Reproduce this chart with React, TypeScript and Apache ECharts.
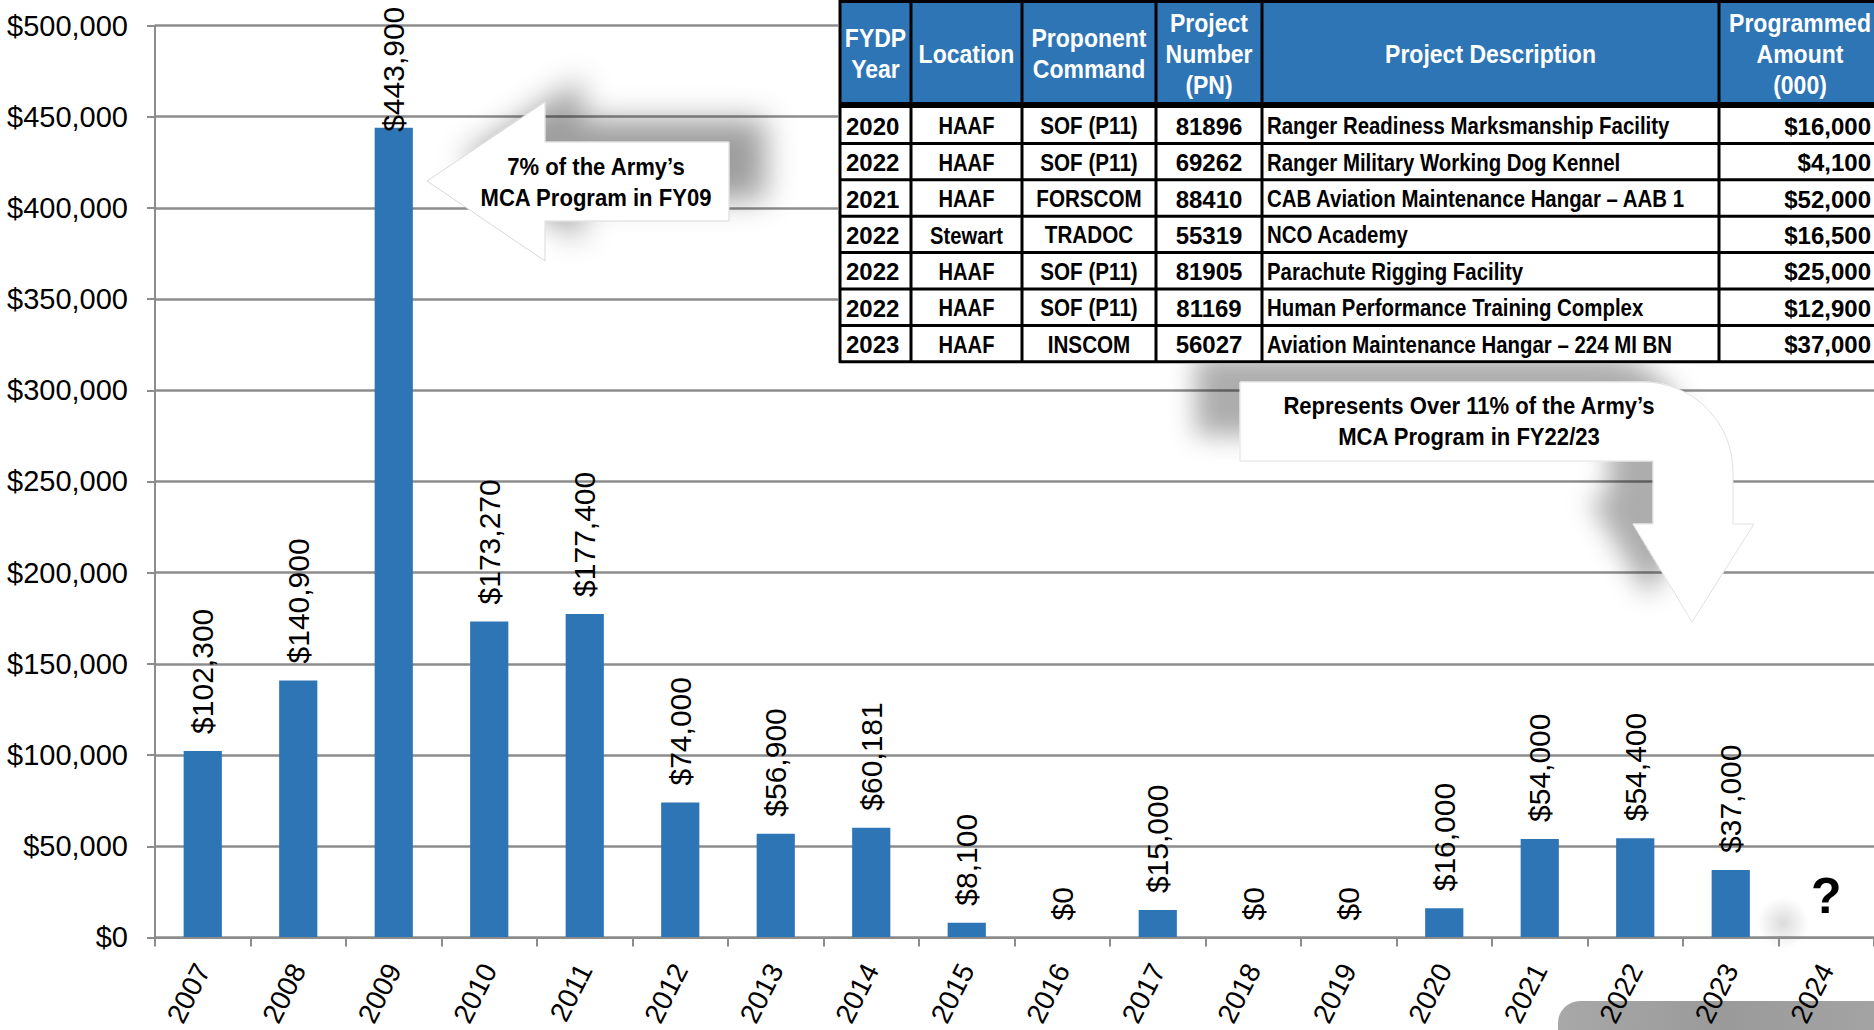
import React, { useEffect, useRef } from 'react';
import * as echarts from 'echarts';

// ---------- data ----------
const years = ['2007', '2008', '2009', '2010', '2011', '2012', '2013', '2014', '2015', '2016', '2017', '2018', '2019', '2020', '2021', '2022', '2023', '2024'];
const amounts = [102300, 140900, 443900, 173270, 177400, 74000, 56900, 60181, 8100, 0, 15000, 0, 0, 16000, 54000, 54400, 37000, 0];
const pendingYear = '2024';
const pendingLabel = '?';
const tightLabelYears = ['2009'];
const yMin = 0;
const yMax = 500000;
const yStep = 50000;

const tableHeaders = ['FYDP\nYear', 'Location', 'Proponent\nCommand', 'Project\nNumber\n(PN)', 'Project Description', 'Programmed\nAmount\n(000)'];
const tableYears = ['2020', '2022', '2021', '2022', '2022', '2022', '2023'];
const tableLocations = ['HAAF', 'HAAF', 'HAAF', 'Stewart', 'HAAF', 'HAAF', 'HAAF'];
const tableCommands = ['SOF (P11)', 'SOF (P11)', 'FORSCOM', 'TRADOC', 'SOF (P11)', 'SOF (P11)', 'INSCOM'];
const tableProjectNumbers = ['81896', '69262', '88410', '55319', '81905', '81169', '56027'];
const tableDescriptions = [
  'Ranger Readiness Marksmanship Facility',
  'Ranger Military Working Dog Kennel',
  'CAB Aviation Maintenance Hangar – AAB 1',
  'NCO Academy',
  'Parachute Rigging Facility',
  'Human Performance Training Complex',
  'Aviation Maintenance Hangar – 224 MI BN',
];
const tableAmounts = ['$16,000', '$4,100', '$52,000', '$16,500', '$25,000', '$12,900', '$37,000'];

const callout09 = ['7% of the Army’s', 'MCA Program in FY09'];
const callout2223 = ['Represents Over 11% of the Army’s', 'MCA Program in FY22/23'];

// ---------- shapes ----------
const leftArrowPath = 'M427 181 L545 102 L545 142 L729 142 L729 221 L545 221 L545 261 Z';
const bentArrowPath =
  'M1240 382 L1643 382 C1693 382 1733 422 1733 472 L1733 524 L1754 524 L1692 622 L1633 524 L1653 524 L1653 461 L1240 461 Z';
echarts.graphic.registerShape('calloutLeft', echarts.graphic.extendPath(leftArrowPath, {}) as any);
echarts.graphic.registerShape('calloutBent', echarts.graphic.extendPath(bentArrowPath, {}) as any);

const BLUE = '#2E75B6';
const SANS = '"Liberation Sans", Arial, Helvetica, sans-serif';
const money = (v: number) => '$' + v.toLocaleString('en-US');

function buildTable(): any[] {
  const Z = 100;
  const cols = [840, 911, 1022, 1156, 1262, 1719, 1882];
  const headerTop = 2;
  const headerBottom = 104;
  const rowTop = 107;
  const rowH = 36.4;
  const tableBottom = rowTop + rowH * tableYears.length;
  const els: any[] = [];
  els.push({ type: 'rect', z: Z, shape: { x: 838, y: 0, width: 1040, height: tableBottom + 2 }, style: { fill: '#fff' } });
  els.push({ type: 'rect', z: Z, shape: { x: cols[0], y: headerTop, width: cols[6] - cols[0], height: headerBottom - headerTop }, style: { fill: BLUE } });
  tableHeaders.forEach((h, i) => {
    const cx = i === 5 ? 1800 : (cols[i] + cols[i + 1]) / 2;
    els.push({
      type: 'text', z: Z + 1, x: cx, y: (headerTop + headerBottom) / 2 + 1, scaleX: 0.92,
      style: { text: h, x: 0, y: 0, fill: '#fff', font: 'bold 25px ' + SANS, lineHeight: 31, textAlign: 'center', textVerticalAlign: 'middle' },
    });
  });
  const bodyFont = 'bold 24px ' + SANS;
  tableYears.forEach((_, r) => {
    const cy = rowTop + rowH * (r + 0.5) + 1;
    const cells: [string, number, string, number][] = [
      [tableYears[r], cols[0] + 6, 'left', 1],
      [tableLocations[r], (cols[1] + cols[2]) / 2, 'center', 0.84],
      [tableCommands[r], (cols[2] + cols[3]) / 2, 'center', 0.86],
      [tableProjectNumbers[r], (cols[3] + cols[4]) / 2, 'center', 1],
      [tableDescriptions[r], cols[4] + 5, 'left', 0.85],
      [tableAmounts[r], 1871, 'right', 1],
    ];
    cells.forEach(([t, x, a, s]) => {
      els.push({
        type: 'text', z: Z + 1, x, y: cy, scaleX: s,
        style: { text: t, x: 0, y: 0, fill: '#000', font: bodyFont, textAlign: a, textVerticalAlign: 'middle' },
      });
    });
  });
  cols.forEach((x) => {
    els.push({ type: 'line', z: Z + 2, shape: { x1: x, y1: 0, x2: x, y2: tableBottom + 1 }, style: { stroke: '#000', lineWidth: 3 } });
  });
  els.push({ type: 'line', z: Z + 2, shape: { x1: cols[0] - 1, y1: 1.5, x2: 1880, y2: 1.5 }, style: { stroke: '#000', lineWidth: 3 } });
  els.push({ type: 'line', z: Z + 2, shape: { x1: cols[0] - 1, y1: 105, x2: 1880, y2: 105 }, style: { stroke: '#000', lineWidth: 6 } });
  for (let r = 1; r <= tableYears.length; r++) {
    const y = rowTop + rowH * r;
    els.push({ type: 'line', z: Z + 2, shape: { x1: cols[0] - 1, y1: y, x2: 1880, y2: y }, style: { stroke: '#000', lineWidth: 3 } });
  }
  return els;
}

function buildGraphics(): any[] {
  const calloutFont = 'bold 24px ' + SANS;
  return [
    {
      type: 'circle', z: 1, shape: { cx: 1783, cy: 923, r: 26 },
      style: { fill: new echarts.graphic.RadialGradient(0.5, 0.5, 0.5, [
        { offset: 0, color: 'rgba(0,0,0,0.14)' }, { offset: 1, color: 'rgba(0,0,0,0)' }]) },
    },
    {
      type: 'rect', z: 1, shape: { x: 1558, y: 1001, width: 330, height: 40, r: [22, 0, 0, 0] },
      style: { fill: new echarts.graphic.LinearGradient(0, 0, 1, 0, [
        { offset: 0, color: '#a8a8a8' }, { offset: 0.5, color: '#9a9a9a' }, { offset: 1, color: '#a4a4a4' }]) },
    },
    {
      type: 'calloutLeft', z: 60,
      style: { fill: '#fff', stroke: '#d8d8d8', lineWidth: 1, shadowBlur: 30, shadowColor: 'rgba(0,0,0,0.38)', shadowOffsetX: 36, shadowOffsetY: -22 },
    },
    {
      type: 'text', z: 61, x: 596, y: 182, scaleX: 0.92,
      style: { text: callout09.join('\n'), x: 0, y: 0, fill: '#000', font: calloutFont, lineHeight: 31, textAlign: 'center', textVerticalAlign: 'middle' },
    },
    {
      type: 'calloutBent', z: 60,
      style: { fill: '#fff', stroke: '#e0e0e0', lineWidth: 1, shadowBlur: 26, shadowColor: 'rgba(0,0,0,0.32)', shadowOffsetX: -44, shadowOffsetY: -26 },
    },
    {
      type: 'text', z: 61, x: 1469, y: 421, scaleX: 0.92,
      style: { text: callout2223.join('\n'), x: 0, y: 0, fill: '#000', font: calloutFont, lineHeight: 31, textAlign: 'center', textVerticalAlign: 'middle' },
    },
    { type: 'group', z: 100, children: buildTable() },
  ];
}

export default function App() {
  const ref = useRef<HTMLDivElement>(null);
  useEffect(() => {
    if (!ref.current) return;
    const chart = echarts.init(ref.current, undefined, { renderer: 'svg' });
    const data = amounts.map((v, i) => {
      const item: any = { value: v };
      if (years[i] === pendingYear) {
        item.label = {
          formatter: pendingLabel, rotate: 0, align: 'center', verticalAlign: 'bottom',
          fontSize: 50, fontWeight: 'bold', fontFamily: SANS, distance: 16,
        };
      } else if (tightLabelYears.includes(years[i])) {
        item.label = { distance: -4 };
      }
      return item;
    });
    chart.setOption({
      animation: false,
      backgroundColor: '#fff',
      grid: { left: 155, top: 25.5, width: 1721, height: 914, containLabel: false },
      xAxis: {
        type: 'category',
        z: 20,
        data: years,
        axisLine: { lineStyle: { color: '#8c8c8c', width: 2 } },
        axisTick: { show: true, length: 9, lineStyle: { color: '#8c8c8c', width: 2 } },
        axisLabel: {
          rotate: 63, margin: 28, color: '#000', fontSize: 28,
          fontFamily: SANS, interval: 0,
        },
      },
      yAxis: {
        type: 'value', min: yMin, max: yMax, interval: yStep,
        axisLine: { show: true, lineStyle: { color: '#8c8c8c', width: 2 } },
        axisTick: { show: true, length: 8, lineStyle: { color: '#8c8c8c', width: 2 } },
        splitLine: { lineStyle: { color: '#8c8c8c', width: 2.5 } },
        axisLabel: {
          margin: 27, color: '#000', fontSize: 29,
          fontFamily: SANS,
          formatter: (v: number) => money(v),
        },
      },
      series: [{
        type: 'bar',
        z: 5,
        data,
        barWidth: '40%',
        itemStyle: { color: BLUE },
        label: {
          show: true, position: 'top', rotate: 90, align: 'left', verticalAlign: 'middle', distance: 17,
          color: '#000', fontSize: 30, fontFamily: SANS,
          formatter: (p: any) => money(p.value),
        },
      }],
      graphic: { elements: buildGraphics() },
    });
    return () => chart.dispose();
  }, []);
  return <div ref={ref} style={{ position: 'absolute', left: 0, top: 0, width: 1874, height: 1030, background: '#fff' }} />;
}
